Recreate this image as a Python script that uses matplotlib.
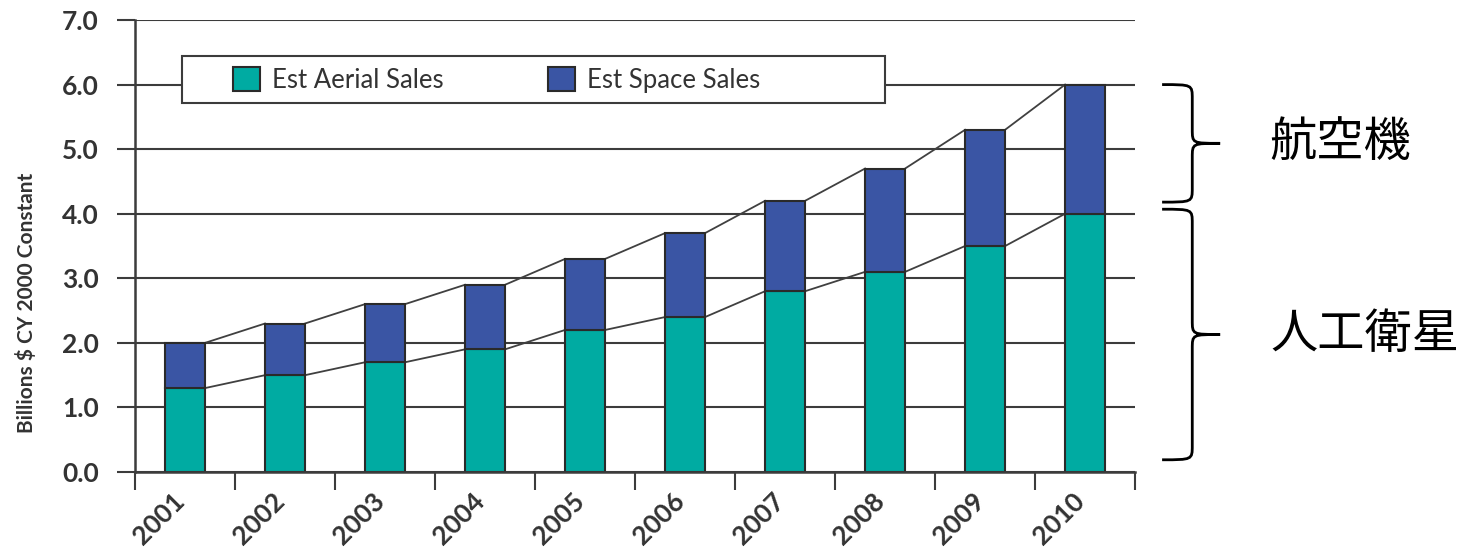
import matplotlib
matplotlib.use("Agg")
import matplotlib.pyplot as plt
from matplotlib.patches import Rectangle, PathPatch, Patch
from matplotlib.path import Path
from matplotlib.transforms import ScaledTranslation

# Valores (bilhões de US$, CY 2000 constante)
anos = ["2001", "2002", "2003", "2004", "2005", "2006", "2007", "2008", "2009", "2010"]
aerial = [1.3, 1.5, 1.7, 1.9, 2.2, 2.4, 2.8, 3.1, 3.5, 4.0]
space = [0.7, 0.8, 0.9, 1.0, 1.1, 1.3, 1.4, 1.6, 1.8, 2.0]
total = [a + s for a, s in zip(aerial, space)]
yticks = [0.0, 1.0, 2.0, 3.0, 4.0, 5.0, 6.0, 7.0]

TEAL = "#00ABA2"
AZUL = "#3A55A4"
CINZA = "#333333"
FONTE = "Lato"
CJK = ["Noto Sans CJK JP", "DejaVu Sans"]

plt.rcParams["font.family"] = [FONTE, "DejaVu Sans"]


def chave(ax, x0, topo, base, largura=0.58, raio=0.22):
    """Chave '}' desenhada com curvas de Bézier."""
    xm = x0 + largura * 0.52
    xt = x0 + largura
    meio = (topo + base) / 2
    verts = [(x0, topo), (xm, topo), (xm, topo), (xm, topo - raio),
             (xm, meio + raio),
             (xm, meio), (xm, meio), (xt, meio),
             (xm, meio), (xm, meio), (xm, meio - raio),
             (xm, base + raio),
             (xm, base), (xm, base), (x0, base)]
    codes = [Path.MOVETO, Path.CURVE4, Path.CURVE4, Path.CURVE4,
             Path.LINETO,
             Path.CURVE4, Path.CURVE4, Path.CURVE4,
             Path.CURVE4, Path.CURVE4, Path.CURVE4,
             Path.LINETO,
             Path.CURVE4, Path.CURVE4, Path.CURVE4]
    ax.add_patch(PathPatch(Path(verts, codes), facecolor="none", edgecolor="black",
                           lw=2.0, clip_on=False, zorder=5))
    return xt, meio


fig = plt.figure(figsize=(14.59, 5.56), dpi=100)
ax = fig.add_axes([0.0925, 0.151, 0.6855, 0.813])

x = list(range(len(anos)))
w = 0.4
ax.bar(x, aerial, width=w, color=TEAL, edgecolor="#2a2a2a", lw=1.5, zorder=3)
ax.bar(x, space, width=w, bottom=aerial, color=AZUL, edgecolor="#2a2a2a", lw=1.5, zorder=3)

# linhas de ligação entre os topos das barras
for serie in (aerial, total):
    for i in range(len(serie) - 1):
        ax.plot([i + w / 2, i + 1 - w / 2], [serie[i], serie[i + 1]],
                color="#404040", lw=1.3, zorder=2)

ax.set_xlim(-0.5, len(anos) - 0.5)
ax.set_ylim(0, 7.0)
ax.set_yticks(yticks)
ax.set_yticklabels([f"{v:.1f}" for v in yticks], fontsize=19, fontweight="bold", color=CINZA)
ax.grid(axis="y", color="#3c3c3c", lw=1.5, zorder=1)
ax.tick_params(axis="y", length=13, width=1.5, color="#3c3c3c", pad=13)

ax.set_xticks(x)
ax.set_xticklabels(anos, rotation=45, ha="right", rotation_mode="anchor",
                   fontsize=19, fontweight="bold", color=CINZA)
ax.set_xticks([i - 0.5 for i in range(len(anos) + 1)], minor=True)
ax.tick_params(axis="x", which="major", length=0, pad=12)
ax.tick_params(axis="x", which="minor", length=13, width=1.5, color="#3c3c3c")
desloca = ScaledTranslation(-0.13, 0, fig.dpi_scale_trans)
for rot in ax.get_xticklabels():
    rot.set_transform(rot.get_transform() + desloca)

for lado in ("top", "right"):
    ax.spines[lado].set_visible(False)
for lado in ("left", "bottom"):
    ax.spines[lado].set_color("#3c3c3c")
    ax.spines[lado].set_linewidth(1.8)
ax.spines["bottom"].set_zorder(4)

fig.text(27 / 1459, 1 - 303 / 556, "Billions $ CY 2000 Constant", rotation=90,
         ha="center", va="center", fontsize=15, fontweight="bold", color=CINZA)

# caixa da legenda
ax.add_patch(Rectangle((0.047, 0.816), 0.703, 0.104, transform=ax.transAxes,
                       facecolor="white", edgecolor="#3c3c3c", lw=1.5, zorder=4))
alcas = [Patch(facecolor=TEAL, edgecolor="#2a2a2a", lw=1.5),
         Patch(facecolor=AZUL, edgecolor="#2a2a2a", lw=1.5)]
leg = ax.legend(alcas, ["Est Aerial Sales", "Est Space Sales"], ncol=2, frameon=False,
                loc="center left", bbox_to_anchor=(0.098, 0.868), fontsize=18.5,
                handlelength=1.05, handleheight=1.05, handletextpad=0.45,
                columnspacing=4.1, borderaxespad=0, borderpad=0)
leg.set_zorder(5)
for t in leg.get_texts():
    t.set_color(CINZA)

# chaves e rótulos à direita
xt, m1 = chave(ax, 9.77, total[-1], aerial[-1] + 0.18)
ax.text(xt + 0.49, m1, "航空機", fontsize=34, family=CJK,
        va="center", ha="left", clip_on=False)
xt, m2 = chave(ax, 9.77, aerial[-1] + 0.07, 0.19)
ax.text(xt + 0.5, m2, "人工衛星", fontsize=34, family=CJK,
        va="center", ha="left", clip_on=False)

fig.savefig("out.png", dpi=100, facecolor="white")
